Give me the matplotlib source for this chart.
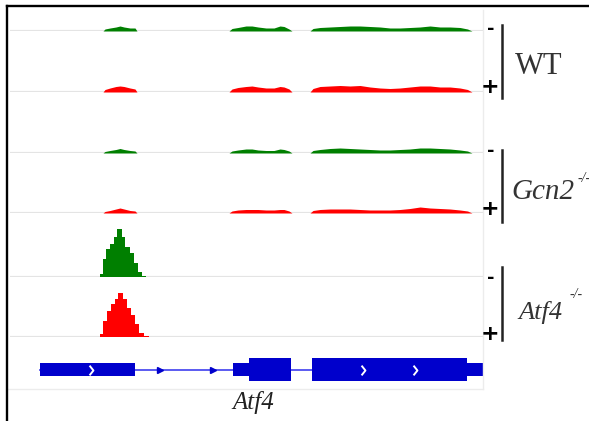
import matplotlib
matplotlib.use('Agg')
import matplotlib.pyplot as plt
from matplotlib.lines import Line2D
from matplotlib.path import Path
import numpy as np

# ---- data (positions in bp across the Atf4 locus window) ----
window = (0, 1892)

# shared sample positions for the low coverage tracks (three exon regions)
cov_pos = [372, 380, 400, 424, 440, 456, 480, 500, 508,
           876, 888, 912, 944, 968, 992, 1024, 1056, 1080, 1096, 1116, 1128,
           1200, 1212, 1240, 1280, 1320, 1360, 1400, 1440, 1480, 1520, 1560,
           1600, 1640, 1680, 1720, 1760, 1800, 1830, 1848]

wt_minus = [0, 2, 3, 4, 5, 4, 3, 3, 0,
            0, 2.5, 3.5, 5, 5, 4, 3, 3, 5, 4.5, 2, 0,
            0, 2.5, 3.5, 4, 4.5, 5, 5, 4.5, 4, 3, 3, 3.5, 4, 5, 4, 4, 3.5, 2, 0]
wt_plus = [0, 2.5, 4, 5.5, 6, 5.5, 4, 3, 0,
           0, 3, 4.5, 5.5, 6, 5, 4, 4, 5.5, 5, 3, 0,
           0, 3.5, 5.5, 6, 6.5, 6, 6.5, 5, 4, 3.5, 4, 5, 6, 6, 5, 5, 4, 2.5, 0]
gcn2_minus = [0, 1.5, 2.5, 3.5, 4.5, 3.5, 2.5, 2, 0,
              0, 2, 3, 4, 4, 3, 2.5, 2.5, 4, 3.5, 2, 0,
              0, 2.5, 3.5, 4.5, 5, 4.5, 4, 3.5, 3, 3, 3.5, 4, 5, 5, 4.5, 4, 3, 2, 0]
gcn2_plus = [0, 1.5, 2.5, 4, 5, 4, 2.5, 2, 0,
             0, 2, 3, 3.5, 3.5, 3.5, 3, 3, 3.5, 3.5, 2, 0,
             0, 2.5, 3.5, 4, 4, 4, 3.5, 3, 3, 3, 3.5, 4.5, 6, 5, 4.5, 4, 3, 2, 0]

# Atf4-/- : single peak, binned
atf4_minus_edges = [360, 372, 384, 400, 416, 428, 448, 460, 480, 496, 512, 528, 544]
atf4_minus = [3, 18, 28, 33, 40, 48, 40, 30, 24, 14, 5, 1]
atf4_plus_edges = [360, 372, 388, 404, 420, 432, 452, 468, 484, 500, 516, 536, 556]
atf4_plus = [3, 16, 26, 33, 38, 44, 38, 29, 22, 13, 4, 1]

# gene model
gene_span = (120, 1892)
utr_blocks = [(120, 380), (892, 64), (1828, 64)]
cds_blocks = [(956, 168), (1208, 620)]
exon_chevrons = [324, 1412, 1620]
intron_arrows = [600, 812]

GREEN = '#007f00'
RED = '#ff0000'
BLUE = '#0000cc'

# ---- layout (pixels) ----
W, H = 589, 421
fig = plt.figure(figsize=(W / 100, H / 100), dpi=100)
fig.patch.set_facecolor('white')

def fx(x):
    return x / W

def fy(y):
    return 1 - y / H

panel_x0, panel_x1 = 10, 483
track_h = 55
baselines = [31, 92, 153, 213, 277, 337]


def track_ax(base):
    ax = fig.add_axes([fx(panel_x0), fy(base), fx(panel_x1 - panel_x0), track_h / H])
    ax.set_xlim(window)
    ax.set_ylim(0, track_h)
    ax.axis('off')
    ax.patch.set_alpha(0)
    ax.axhline(0, color='#e4e4e4', lw=1.6, zorder=0)
    return ax


tracks = [(wt_minus, GREEN), (wt_plus, RED), (gcn2_minus, GREEN), (gcn2_plus, RED)]
for (vals, col), base in zip(tracks, baselines[:4]):
    ax = track_ax(base)
    ax.fill_between(cov_pos, 0, vals, color=col, lw=0, zorder=2)

ax = track_ax(baselines[4])
ax.stairs(atf4_minus, atf4_minus_edges, fill=True, color=GREEN, zorder=2)
ax = track_ax(baselines[5])
ax.stairs(atf4_plus, atf4_plus_edges, fill=True, color=RED, zorder=2)

# gene track
gax = fig.add_axes([fx(panel_x0), fy(390), fx(panel_x1 - panel_x0), 40 / H])
gax.set_xlim(window)
gax.set_ylim(0, 40)
gax.axis('off')
gax.patch.set_alpha(0)
yc = 20.5
gax.plot(gene_span, [yc, yc], color='#4d4df0', lw=1.3, zorder=1)
gax.broken_barh(utr_blocks, (yc - 6.5, 13), facecolor=BLUE, edgecolor='none', zorder=2)
gax.broken_barh(cds_blocks, (yc - 11.5, 23), facecolor=BLUE, edgecolor='none', zorder=2)
chev = Path([(-0.4, 1), (0.4, 0), (-0.4, -1)], [Path.MOVETO, Path.LINETO, Path.LINETO])
gax.plot(exon_chevrons, [yc] * len(exon_chevrons), ls='none', marker=chev,
         ms=7, mec='white', mfc='none', mew=1.4, zorder=3)
gax.plot(intron_arrows, [yc] * len(intron_arrows), ls='none', marker='>',
         ms=5, color=BLUE, zorder=3)

# faint panel frame (right + bottom)
fig.add_artist(Line2D([fx(483), fx(483)], [fy(10), fy(389)], color='#ececec', lw=1))
fig.add_artist(Line2D([fx(8), fx(483)], [fy(389), fy(389)], color='#ececec', lw=1))

# outer black border (left + top)
fig.add_artist(Line2D([fx(7), fx(7)], [fy(6), 0], color='black', lw=1.7))
fig.add_artist(Line2D([fx(7), 1], [fy(6), fy(6)], color='black', lw=1.7))

# strand marks and brackets
minus_y = [29, 151, 278]
plus_y = [87, 209, 334]
bracket = [(25, 98), (150, 222), (267, 340)]
for my, py, (b0, b1) in zip(minus_y, plus_y, bracket):
    fig.text(fx(491), fy(my), '-', ha='center', va='center', fontsize=13,
             fontweight='bold', color='black')
    fig.text(fx(490), fy(py), '+', ha='center', va='center', fontsize=16,
             fontweight='bold', color='black')
    fig.add_artist(Line2D([fx(502), fx(502)], [fy(b0), fy(b1)], color='#222222', lw=1.8))

serif = 'Liberation Serif'
fig.text(fx(515), fy(67), 'WT', ha='left', va='center', fontsize=22,
         family=serif, color='#333333')
fig.text(fx(511), fy(192), 'Gcn2', ha='left', va='center', fontsize=21,
         family=serif, style='italic', color='#333333')
fig.text(fx(577), fy(178), '-/-', ha='left', va='center', fontsize=10,
         family=serif, style='italic', color='#333333')
fig.text(fx(518), fy(312), 'Atf4', ha='left', va='center', fontsize=19,
         family=serif, style='italic', color='#333333')
fig.text(fx(569), fy(295), '-/-', ha='left', va='center', fontsize=10,
         family=serif, style='italic', color='#333333')
fig.text(fx(253), fy(403), 'Atf4', ha='center', va='center', fontsize=18,
         family=serif, style='italic', color='#222222')

fig.savefig('out.png', dpi=100)
